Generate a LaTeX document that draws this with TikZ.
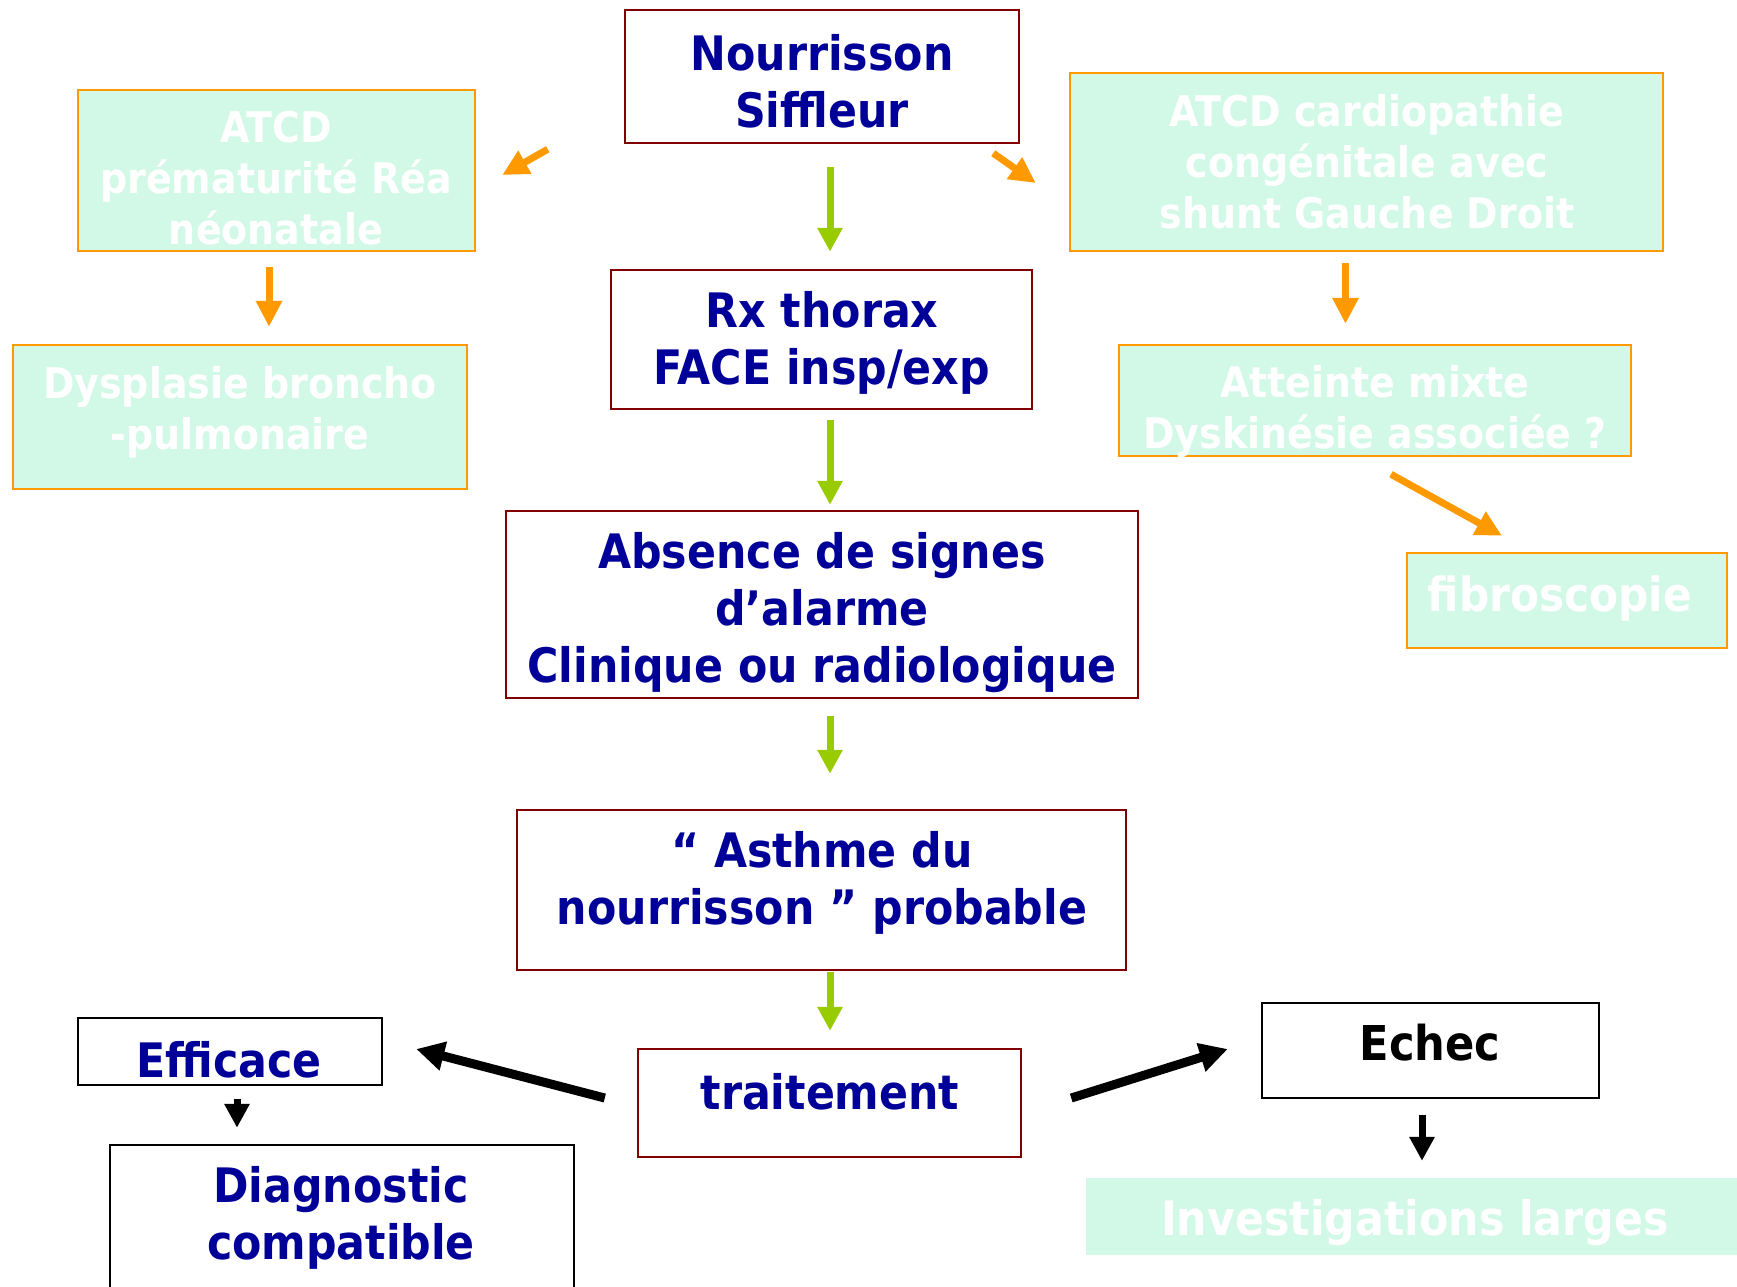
\documentclass[tikz,border=0pt]{standalone}
\usepackage{fontspec}
\setmainfont{DejaVu Sans Condensed}
\usetikzlibrary{arrows.meta}
\definecolor{navy}{RGB}{0,0,153}
\definecolor{boxred}{RGB}{128,0,0}
\definecolor{mint}{RGB}{210,248,232}
\definecolor{orng}{RGB}{255,153,0}
\definecolor{grn}{RGB}{153,204,0}
\tikzset{
  redbox/.style={draw=boxred,line width=2.5pt,inner sep=0pt},
  mintbox/.style={draw=orng,fill=mint,line width=2.5pt,inner sep=0pt},
  blkbox/.style={draw=black,line width=2.5pt,inner sep=0pt},
  btxt/.style={text=navy,font=\bfseries\fontsize{47.5}{57}\selectfont,align=center,inner sep=0pt},
  ktxt/.style={text=black,font=\bfseries\fontsize{48}{57}\selectfont,align=center,inner sep=0pt},
  wtxt/.style={text=white,font=\bfseries\fontsize{42.2}{51}\selectfont,align=center,inner sep=0pt},
  garrow/.style={draw=grn,line width=7pt,-{Triangle[width=24pt,length=24pt]}},
  oarrow/.style={draw=orng,line width=7pt,-{Triangle[width=25pt,length=26pt]}},
  karrow/.style={draw=black,line width=7pt,-{Triangle[width=24pt,length=24pt]}},
  kbarrow/.style={draw=black,line width=9pt,-{Triangle[width=28pt,length=28pt]}},
}
\begin{document}
\begin{tikzpicture}[x=1pt,y=-1pt]
\useasboundingbox (0,0) rectangle (1737,1286);
% boxes
\node[redbox,minimum width=394pt,minimum height=133pt] (n1) at (822,76.5) {};
\node[mintbox,minimum width=397pt,minimum height=161pt] (a1) at (276.5,170.5) {};
\node[mintbox,minimum width=593pt,minimum height=178pt] (a2) at (1366.5,162) {};
\node[redbox,minimum width=421pt,minimum height=139pt] (rx) at (821.5,339.5) {};
\node[mintbox,minimum width=454pt,minimum height=144pt] (dys) at (240,417) {};
\node[mintbox,minimum width=512pt,minimum height=111pt] (att) at (1375,400.5) {};
\node[mintbox,minimum width=320pt,minimum height=95pt] (fib) at (1567,600.5) {};
\node[redbox,minimum width=632pt,minimum height=187pt] (abs) at (822,604.5) {};
\node[redbox,minimum width=609pt,minimum height=160pt] (ast) at (821.5,890) {};
\node[redbox,minimum width=383pt,minimum height=108pt] (tr) at (829.5,1103) {};
\node[blkbox,minimum width=304pt,minimum height=67pt] (eff) at (230,1051.5) {};
\node[blkbox,minimum width=464pt,minimum height=160pt] (diag) at (342,1225) {};
\node[blkbox,minimum width=337pt,minimum height=95pt] (ech) at (1430.5,1050.5) {};
\node[fill=mint,inner sep=0pt,minimum width=651pt,minimum height=77pt] (inv) at (1411.5,1216.5) {};
% texts
\node[btxt] (n1t) at (822,81) {Nourrisson\\Siffleur};
\node[wtxt] (a1t) at (276,178) {ATCD\\prématurité Réa\\néonatale};
\node[wtxt] (a2t) at (1367,162) {ATCD cardiopathie\\congénitale avec\\shunt Gauche Droit};
\node[btxt] (rxt) at (822,343) {Rx thorax\\FACE insp/exp};
\node[wtxt] (dyst) at (240,412) {Dysplasie broncho\\-pulmonaire};
\node[wtxt] (attt) at (1375,412) {Atteinte mixte\\Dyskinésie associée ?};
\node[wtxt,font=\bfseries\fontsize{47}{51}\selectfont] (fibt) at (1560,599) {fibroscopie};
\node[btxt] (abst) at (822,612.5) {Absence de signes\\d’alarme\\Clinique ou radiologique};
\node[btxt] (astt) at (822,882.5) {“ Asthme du\\nourrisson ” probable};
\node[btxt] (trt) at (830,1092) {traitement};
\node[btxt] (efft) at (229,1060) {Efficace};
\node[btxt] (diagt) at (341,1218) {Diagnostic\\compatible};
\node[ktxt] (echt) at (1430,1043) {Echec};
\node[wtxt,font=\bfseries\fontsize{47.5}{51}\selectfont] (invt) at (1415,1223) {Investigations larges};
% green arrows
\draw[garrow] ([xshift=8pt,yshift=-23pt]n1.south) -- ([xshift=8.5pt,yshift=17pt]rx.north);
\draw[garrow] ([xshift=8.5pt,yshift=-10pt]rx.south) -- ([xshift=8pt,yshift=5pt]abs.north);
\draw[garrow] ([xshift=8pt,yshift=-17pt]abs.south) -- ([xshift=8.5pt,yshift=35pt]ast.north);
\draw[garrow] ([xshift=8.5pt,yshift=-1pt]ast.south) -- ([xshift=0.5pt,yshift=17pt]tr.north);
% orange arrows
\draw[oarrow] ([xshift=-76pt,yshift=-5pt]n1.south west) -- ([xshift=26pt,yshift=-4.5pt]a1.east);
\draw[oarrow] ([xshift=-27pt,yshift=-9pt]n1.south east) -- ([xshift=-33pt,yshift=-21pt]a2.west);
\draw[oarrow] ([xshift=-7.5pt,yshift=-15pt]a1.south) -- ([xshift=29pt,yshift=17pt]dys.north);
\draw[oarrow] ([xshift=-21pt,yshift=-11pt]a2.south) -- ([xshift=-29.5pt,yshift=20pt]att.north);
\draw[oarrow] ([xshift=16pt,yshift=-17pt]att.south) -- ([xshift=-65pt,yshift=16pt]fib.north);
% black arrows
\draw[kbarrow] ([xshift=-32pt,yshift=5pt]tr.west) -- ([xshift=33pt,yshift=2.5pt]eff.east);
\draw[kbarrow] ([xshift=49pt,yshift=5pt]tr.east) -- ([xshift=-33pt,yshift=1.5pt]ech.west);
\draw[karrow] ([xshift=7pt,yshift=-13pt]eff.south) -- ([xshift=-105pt,yshift=16pt]diag.north);
\draw[karrow] ([xshift=-8.5pt,yshift=-16pt]ech.south) -- ([xshift=10.5pt,yshift=17pt]inv.north);
\end{tikzpicture}
\end{document}
